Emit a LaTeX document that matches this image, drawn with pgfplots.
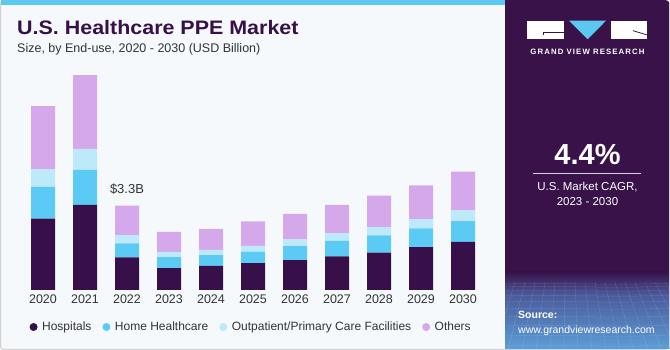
\documentclass[border=0pt]{standalone}
\usepackage{graphicx}
\usepackage{fontspec}
\setmainfont{Liberation Sans}
\newfontfamily\gvrfont[LetterSpace=14]{Liberation Sans}
\usepackage{pgfplots}
\pgfplotsset{compat=1.18}
\usetikzlibrary{calc}
\definecolor{hosp}{HTML}{37104A}
\definecolor{home}{HTML}{5BCBF5}
\definecolor{outp}{HTML}{BDE9FA}
\definecolor{oth}{HTML}{D5A8EC}
\definecolor{panel}{HTML}{381249}
\definecolor{bgl}{HTML}{F5F9FC}
\definecolor{stripe}{HTML}{5BC8F0}
\definecolor{txt}{HTML}{333333}
\definecolor{blueb}{HTML}{5C9ED6}
\definecolor{bluem}{HTML}{4A5A9C}
\begin{document}
\begin{tikzpicture}[x=1pt,y=1pt]
\useasboundingbox (0,0) rectangle (670,350);
\fill[white] (0,0) rectangle (670,350);
% left panel
\fill[bgl,rounded corners=3pt] (0.5,0.5) rectangle (520,349.5);
\draw[black!18,line width=1pt,rounded corners=3pt] (0.5,0.5) rectangle (520,349.5);
\fill[stripe] (0.5,344.5) rectangle (505,350);
% right panel
\fill[panel,rounded corners=4pt] (505,0.5) rectangle (669.5,350);
\fill[panel] (505,0.5) rectangle (520,350);
\shade[bottom color=bluem, top color=panel] (505,55) rectangle (669.5,78);
\shade[bottom color=blueb, top color=bluem] (505,1) rectangle (669.5,55.2);
\begin{scope}
\clip (505,1) rectangle (669.5,70);
\foreach \i in {0,...,16}{
  \draw[white,opacity=0.13,line width=0.5pt] (505+\i*10,68) -- (480+\i*14,0);
}
\foreach \j/\y in {1/66,2/63,3/59,4/54,5/48,6/41,7/33,8/24,9/14,10/4}{
  \draw[white,opacity=0.13,line width=0.5pt] (505,\y) .. controls (560,\y+2) and (610,\y-2) .. (670,\y+1);
}
\end{scope}
\draw[black!18,line width=1pt] (669.5,2) -- (669.5,346);
\draw[black!18,line width=1pt] (505,0.5) -- (667,0.5);
% logo
\fill[white] (526.7,310.7) rectangle (564,329.3);
\draw[panel,line width=0.8pt] (543,315) -- (543,317.7) -- (564,317.7);
\fill[stripe] (569,329.3) -- (606,329.3) -- (587.7,310.7) -- cycle;
\fill[white] (610.7,310.7) rectangle (647.3,329.3);
\draw[panel,line width=0.8pt] (633,319.3) -- (647.3,315);
\node[anchor=base,text=white,font=\gvrfont\bfseries\fontsize{7.8}{9}\selectfont,inner sep=0] at (587.5,295.5) {GRAND VIEW RESEARCH};
% CAGR
\node[anchor=base,text=white,font=\bfseries\fontsize{29}{32}\selectfont,inner sep=0] at (587.5,185) {4.4\%};
\draw[white!80!panel,line width=1.2pt] (533,176.7) -- (641,176.7);
\node[anchor=base,text=white,font=\fontsize{11.5}{13}\selectfont,inner sep=0] at (587.5,159) {U.S. Market CAGR,};
\node[anchor=base,text=white,font=\fontsize{11.5}{13}\selectfont,inner sep=0] at (587.5,144.5) {2023 - 2030};
\node[anchor=base west,text=white,font=\bfseries\fontsize{10.5}{12}\selectfont,inner sep=0] at (518,31) {Source:};
\node[anchor=base west,text=white,font=\fontsize{10.5}{12}\selectfont,inner sep=0] at (518,16) {www.grandviewresearch.com};
% titles
\node[anchor=base west,text=hosp,font=\bfseries\fontsize{19.5}{22}\selectfont,inner sep=0] at (17,315) {\scalebox{1.1}[1]{U.S. Healthcare PPE Market}};
\node[anchor=base west,text=txt,font=\fontsize{12.5}{14}\selectfont,inner sep=0] at (17,297.5) {Size, by End-use, 2020 - 2030 (USD Billion)};
\begin{axis}[
  at={(22pt,60pt)}, anchor=south west,
  scale only axis, width=462pt, height=229.9pt,
  xmin=-0.5, xmax=10.5, ymin=0, ymax=9,
  ybar stacked, bar width=24pt,
  hide y axis,
  axis x line*=bottom, x axis line style={draw=none},
  major tick length=0pt,
  xtick={0,...,10},
  xticklabels={2020,2021,2022,2023,2024,2025,2026,2027,2028,2029,2030},
  xticklabel style={font=\fontsize{12.5}{14}\selectfont, text=txt, yshift=-1.5pt},
  legend columns=4,
  legend style={at={(0.496,-0.161)}, anchor=center, draw=none, fill=none,
    font=\fontsize{12}{14}\selectfont, text=txt,
    /tikz/every odd column/.append style={column sep=2.5pt},
    /tikz/every even column/.append style={column sep=9pt},
    inner sep=0pt},
  legend image code/.code={\fill[#1] (4pt,0pt) circle (4pt);},
  clip=false,
]
\addplot[fill=hosp,draw=none] coordinates {(0,2.79)(1,3.33)(2,1.28)(3,0.86)(4,0.94)(5,1.05)(6,1.17)(7,1.32)(8,1.46)(9,1.68)(10,1.88)};
\addlegendentry{Hospitals}
\addplot[fill=home,draw=none] coordinates {(0,1.25)(1,1.37)(2,0.55)(3,0.43)(4,0.43)(5,0.45)(6,0.55)(7,0.60)(8,0.68)(9,0.73)(10,0.82)};
\addlegendentry{Home Healthcare}
\addplot[fill=outp,draw=none] coordinates {(0,0.69)(1,0.82)(2,0.32)(3,0.20)(4,0.20)(5,0.23)(6,0.26)(7,0.31)(8,0.32)(9,0.36)(10,0.43)};
\addlegendentry{Outpatient/Primary Care Facilities}
\addplot[fill=oth,draw=none] coordinates {(0,2.47)(1,2.89)(2,1.15)(3,0.79)(4,0.82)(5,0.96)(6,1.00)(7,1.10)(8,1.23)(9,1.33)(10,1.50)};
\addlegendentry{Others}
\node[anchor=base,text=txt,font=\fontsize{13}{15}\selectfont,inner sep=0] at (axis cs:2,3.3) [yshift=12.5pt] {\$3.3B};
\end{axis}
\end{tikzpicture}
\end{document}
